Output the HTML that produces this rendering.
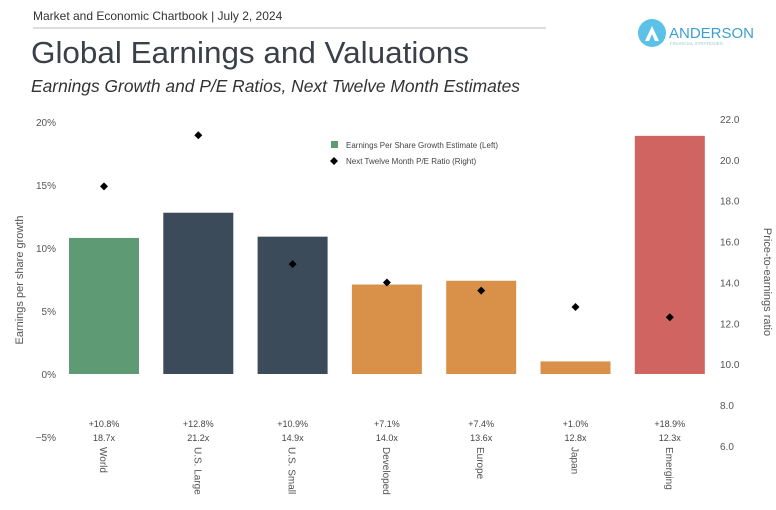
<!DOCTYPE html>
<html><head><meta charset="utf-8"><style>
body{margin:0;width:776px;height:510px;background:#fff;overflow:hidden;font-family:"Liberation Sans",sans-serif;}
svg{display:block}
</style></head><body>
<svg id="c" width="776" height="510" viewBox="0 0 776 510">
<text x="33" y="20" font-size="12" fill="#333">Market and Economic Chartbook | July 2, 2024</text>
<line x1="33" y1="28" x2="546" y2="28" stroke="#bbb" stroke-width="1"/>
<g>
<circle cx="652" cy="33" r="14" fill="#5cc1e6"/>
<path d="M645 41 L652 26 L659 41 L655 41 L652 34 L649 41Z" fill="#fff"/>
<text x="669" y="38" font-size="15" fill="#3d9fd0">ANDERSON</text>
<text x="670" y="45" font-size="4.5" fill="#9cc">FINANCIAL STRATEGIES</text>
</g>
<text x="31" y="63" font-size="31" textLength="438" lengthAdjust="spacingAndGlyphs" fill="#3a3f48">Global Earnings and Valuations</text>
<text x="31" y="92" font-size="17.5" textLength="489" lengthAdjust="spacingAndGlyphs" font-style="italic" fill="#333">Earnings Growth and P/E Ratios, Next Twelve Month Estimates</text>
<text transform="translate(23,280) rotate(-90)" text-anchor="middle" font-size="11" fill="#555">Earnings per share growth</text>
<text transform="translate(764,282) rotate(90)" text-anchor="middle" font-size="11" fill="#555">Price-to-earnings ratio</text>
<g>
<rect x="331" y="141" width="7" height="7" fill="#5e9a73"/>
<text x="346" y="148" font-size="8" fill="#444">Earnings Per Share Growth Estimate (Left)</text>
<path d="M334 157 L338 161 L334 165 L330 161Z" fill="#000"/>
<text x="346" y="164" font-size="8" fill="#444">Next Twelve Month P/E Ratio (Right)</text>
</g>
<g id="plot"></g>
</svg>
<script>
const categories=["World","U.S. Large","U.S. Small","Developed","Europe","Japan","Emerging"];
const epsGrowth=[10.8,12.8,10.9,7.1,7.4,1.0,18.9];
const peRatio=[18.7,21.2,14.9,14.0,13.6,12.8,12.3];
const barColors=["#5e9a73","#3b4b5a","#3b4b5a","#d9914a","#d9914a","#d9914a","#cf6461"];
const leftTicks=[20,15,10,5,0,-5];
const rightTicks=[22,20,18,16,14,12,10,8,6];
const NS="http://www.w3.org/2000/svg";
const g=document.getElementById('plot');
const yL=v=>374-v*12.6;
const yR=v=>446-(v-6)*20.44;
const xC=i=>104+i*94.3;
const bw=70;
function mk(t,a,txt){const e=document.createElementNS(NS,t);for(const k in a)e.setAttribute(k,a[k]);if(txt!==undefined)e.textContent=txt;g.appendChild(e);return e;}
leftTicks.forEach(v=>{const e=mk('text',{x:56,y:yL(v)+4,'text-anchor':'end','font-size':10,fill:'#555'},(v<0?'\u2212':'')+Math.abs(v)+'%');

});
rightTicks.forEach(v=>{const e=mk('text',{x:720,y:yR(v)+4,'font-size':10,fill:'#555'},v.toFixed(1));

});
categories.forEach((c,i)=>{
const v=epsGrowth[i],top=yL(Math.max(v,0)),h=Math.abs(yL(v)-yL(0));
const r=mk('rect',{x:xC(i)-bw/2,y:top,width:bw,height:h,fill:barColors[i]});


const x=xC(i),y=yR(peRatio[i]);
const d=mk('path',{d:`M${x} ${y-4}L${x+4} ${y}L${x} ${y+4}L${x-4} ${y}Z`,fill:'#000'});


const t1=mk('text',{x:x,y:427,'text-anchor':'middle','font-size':9,fill:'#444'},(v>=0?'+':'')+v.toFixed(1)+'%');


const t2=mk('text',{x:x,y:441,'text-anchor':'middle','font-size':9,fill:'#444'},peRatio[i].toFixed(1)+'x');


const t3=mk('text',{transform:`translate(${x-4},447) rotate(90)`,'font-size':10,fill:'#555'},c);


});
</script>
</body></html>
